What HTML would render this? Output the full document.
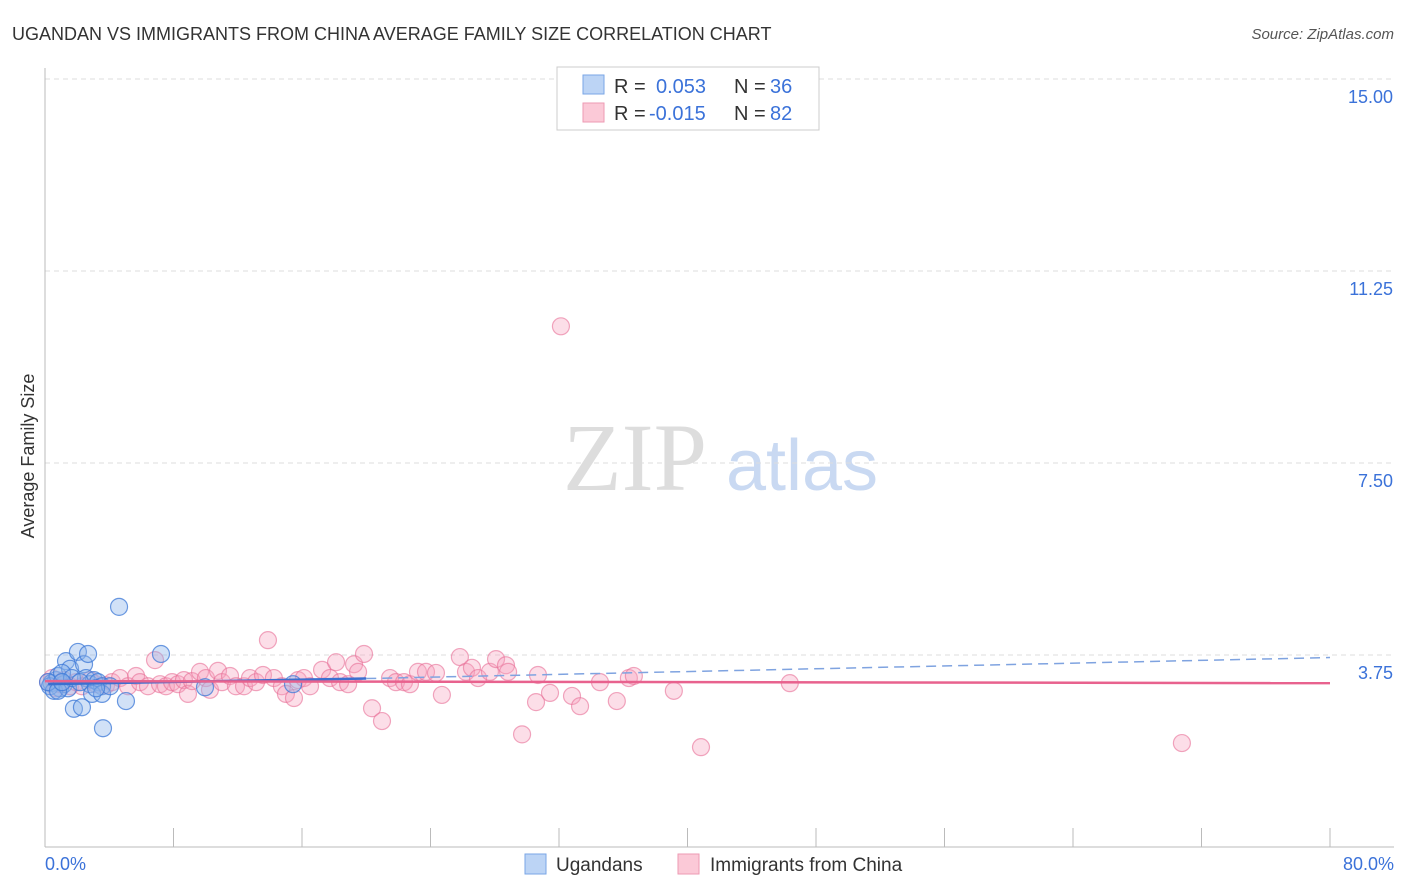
<!DOCTYPE html>
<html><head><meta charset="utf-8"><style>
body{margin:0;background:#fff;font-family:"Liberation Sans",sans-serif;}
svg{display:block}
</style></head><body>
<svg id="chart" width="1406" height="892">
<text x="12" y="40" font-size="18" fill="#333">UGANDAN VS IMMIGRANTS FROM CHINA AVERAGE FAMILY SIZE CORRELATION CHART</text>
<text x="1394" y="39" font-size="15" fill="#555" font-style="italic" text-anchor="end">Source: ZipAtlas.com</text>
<text x="34" y="456" font-size="18" fill="#333" text-anchor="middle" transform="rotate(-90 34 456)">Average Family Size</text>
<g>
<text x="635" y="490" font-size="96" fill="#ddd" font-family="Liberation Serif,serif" text-anchor="middle">ZIP</text>
<text x="802" y="490" font-size="72" fill="#c9d9f2" text-anchor="middle">atlas</text>
</g>
<g id="grid"></g><g id="axes"></g><g id="pts"></g><g id="trends"></g>
<g>
<rect x="557" y="67" width="262" height="63" fill="#fff" stroke="#ccc"/>
<rect x="583" y="75" width="21" height="19" fill="#bcd4f5" stroke="#7aa6e6"/>
<rect x="583" y="103" width="21" height="19" fill="#fbc9d7" stroke="#ee9ab3"/>
<text x="614" y="93" font-size="20" fill="#333">R = </text><text x="656" y="93" font-size="20" fill="#3b72d9">0.053</text>
<text x="734" y="93" font-size="20" fill="#333">N = </text><text x="770" y="93" font-size="20" fill="#3b72d9">36</text>
<text x="614" y="120" font-size="20" fill="#333">R = </text><text x="649" y="120" font-size="20" fill="#3b72d9">-0.015</text>
<text x="734" y="120" font-size="20" fill="#333">N = </text><text x="770" y="120" font-size="20" fill="#3b72d9">82</text>
</g>
<g>
<rect x="525" y="854" width="21" height="20" fill="#bcd4f5" stroke="#7aa6e6"/>
<text x="556" y="871" font-size="19" fill="#333">Ugandans</text>
<rect x="678" y="854" width="21" height="20" fill="#fbc9d7" stroke="#ee9ab3"/>
<text x="710" y="871" font-size="19" fill="#333">Immigrants from China</text>
</g>
</svg>
<script>
const yTicks=[3.75,7.5,11.25,15];
const yTickLabels=["3.75","7.50","11.25","15.00"];
const xTickLabels=["0.0%","80.0%"];
const ugX=[0.4,0.7,0.93,1.18,0.31,0.81,1.31,1.56,1.06,2.05,2.43,2.68,2.55,2.8,3.05,3.3,3.55,2.93,3.55,1.8,2.3,3.61,5.04,4.61,7.22,4.05,9.96,15.44,0.56,0.19,1.43,1.68,0.81,2.18,1.06,3.18];
const ugY=[3.2,3.26,3.1,3.18,3.14,3.34,3.63,3.48,3.4,3.81,3.57,3.77,3.3,3.18,3.26,3.22,3.14,2.99,2.99,2.7,2.73,2.32,2.85,4.69,3.77,3.14,3.12,3.18,3.05,3.22,3.1,3.3,3.05,3.22,3.22,3.1];
const cnX=[0.19,0.44,0.68,0.93,1.18,1.56,1.93,2.3,2.8,3.18,3.8,4.17,4.67,5.17,5.67,5.91,6.41,6.85,7.16,7.53,7.91,8.28,8.65,8.9,9.15,9.65,10.02,10.27,10.77,11.02,11.52,11.89,12.39,12.76,13.14,13.57,13.88,14.25,14.75,15,15.5,15.75,16.12,16.5,17.25,17.74,18.12,18.37,18.87,19.24,19.49,19.86,20.36,20.98,21.48,21.85,22.35,22.72,23.22,23.72,24.34,24.71,25.83,26.21,26.58,26.96,27.7,28.08,28.7,28.83,29.7,30.57,30.69,31.44,32.12,32.81,33.31,34.55,35.6,36.35,36.66,39.15,40.84,46.37,70.78];
const cnY=[3.22,3.3,3.1,3.18,3.26,3.14,3.22,3.14,3.26,3.18,3.16,3.22,3.3,3.14,3.34,3.22,3.14,3.65,3.18,3.14,3.22,3.18,3.26,2.99,3.24,3.42,3.3,3.07,3.44,3.22,3.34,3.14,3.14,3.3,3.22,3.36,4.04,3.3,3.14,2.99,2.91,3.26,3.3,3.14,3.46,3.3,3.61,3.22,3.18,3.57,3.42,3.77,2.71,2.46,3.3,3.22,3.22,3.18,3.42,3.42,3.4,2.97,3.71,3.42,3.5,3.3,3.42,3.67,3.55,3.42,2.20,2.83,3.36,3.01,10.17,2.95,2.75,3.22,2.85,3.3,3.34,3.05,1.95,3.2,2.03];
const xs=v=>45+v/80*1285, ys=v=>847-v/3.75*192;
const NS="http://www.w3.org/2000/svg";
function mk(tag,attrs,parent){const e=document.createElementNS(NS,tag);for(const k in attrs)e.setAttribute(k,attrs[k]);document.getElementById(parent).appendChild(e);return e;}
yTicks.forEach((t,i)=>{
 const g=mk('line',{x1:45,x2:1394,y1:ys(t),y2:ys(t),stroke:'#ddd','stroke-dasharray':'5,4'},'grid');
 
 
 const l=mk('text',{x:1393,y:ys(t)+24,'font-size':18,fill:'#3b72d9','text-anchor':'end'},'axes');
 l.textContent=yTickLabels[i];
 
 
});
const ax=mk('line',{x1:45,x2:45,y1:68,y2:847,stroke:'#bbb'},'axes');


const bx=mk('line',{x1:45,x2:1394,y1:847,y2:847,stroke:'#bbb'},'axes');


for(let i=0;i<=10;i++){
 const t=mk('line',{x1:xs(i*8),x2:xs(i*8),y1:828,y2:847,stroke:'#bbb'},'axes');
 
 
}
[[0,'start',45],[80,'end',1394]].forEach((d,i)=>{
 const l=mk('text',{x:d[2],y:870,'font-size':18,fill:'#3b72d9','text-anchor':d[1]},'axes');
 l.textContent=xTickLabels[i];
 
 
});
cnX.forEach((v,i)=>{
 const c=mk('circle',{cx:xs(v),cy:ys(cnY[i]),r:8.5,fill:'rgba(246,160,188,0.35)',stroke:'rgba(232,110,150,0.6)','stroke-width':1.2},'pts');
 
 
});
ugX.forEach((v,i)=>{
 const c=mk('circle',{cx:xs(v),cy:ys(ugY[i]),r:8.5,fill:'rgba(140,180,236,0.4)',stroke:'rgba(60,120,215,0.75)','stroke-width':1.2},'pts');
 
 
});
const t1=mk('line',{x1:xs(0.2),y1:ys(3.18),x2:xs(20),y2:ys(3.29),stroke:'#3b6fd0','stroke-width':2.5},'trends');


const t2=mk('line',{x1:xs(20),y1:ys(3.29),x2:xs(80),y2:ys(3.7),stroke:'#7fa3e0','stroke-width':1.5,'stroke-dasharray':'10,6'},'trends');


const t3=mk('line',{x1:xs(0),y1:ys(3.24),x2:xs(80),y2:ys(3.2),stroke:'#e8628e','stroke-width':2.5},'trends');


</script>
</body></html>
